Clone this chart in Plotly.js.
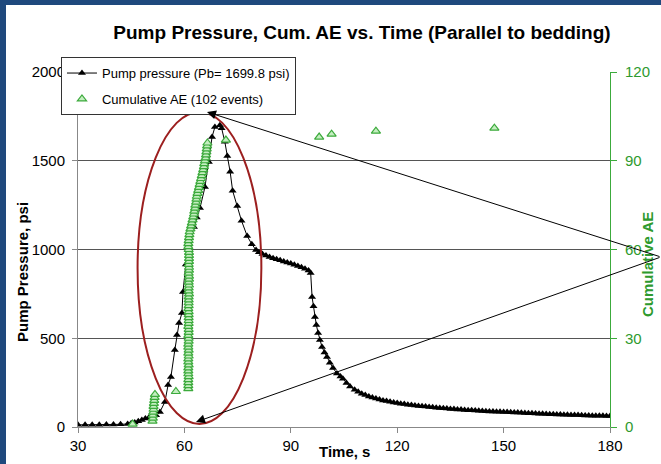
<!DOCTYPE html>
<html><head><meta charset="utf-8">
<script src="https://cdn.plot.ly/plotly-3.0.1.min.js"></script>
<style>
html,body{margin:0;padding:0;background:#1F497D;width:661px;height:464px;overflow:hidden;}
#chart{position:absolute;left:6px;top:5px;width:655px;height:459px;background:#fff;}
</style></head><body><div id="chart"></div>
<script>
// ---- data ----
const timeP = [30,32,34,36,38,40,42,44,45,46,47,48,49,50,51,52,53.1,54.5,55.4,56.2,57.3,57.9,58.5,59.3,59.6,60.4,61.4,62.7,63.5,64.4,65.8,66.9,67.8,68.6,70.0,70.5,71.4,72.1,72.9,73.6,74.9,76.1,77.7,79,80.2,81,82,83,84,85,86,87,88,89,90,91,92,93,94,95,95.6,96.0,96.4,96.8,97.2,97.7,98.2,98.8,99.5,100.2,101,101.9,103,104,104.7,105.7,106.7,108,109,110,111,112,113,114,115,116,117,118,119,120,
121,122,123,124,125,126,127,128,129,130,131,132,133,134,135,136,137,138,139,140,141,142,143,144,145,146,147,148,149,150,151,152,153,154,155,156,157,158,159,160,161,162,163,164,165,166,167,168,169,170,171,172,173,174,175,176,177,178,179,180];
const pumpPressure = [12,12,13,13,14,14,15,17,21,26,32,40,48,54,58,66,85,141,237,282,434,518,586,642,761,915,1030,1127,1180,1234,1352,1493,1634,1690,1699.8,1683,1607,1527,1438,1331,1245,1162,1076,1030,997,984,974,966,958,951,945,939,933,927,921,914,907,900,892,882,868,732,680,620,575,530,490,451,420,394,362,332,302,285,272,248,228,210,198,188,180,172,166,160,155,150,146,142,138,135,
131,129,126,124,121,119,117,115,113,111,109,107,106,104,102,101,99,98,96,95,94,93,91,90,89,88,87,86,86,85,84,83,82,81,80,79,78,77,76,75,74,73,72,72,71,70,69,69,68,67,67,66,65,65,64,64,63,63,62,62];

const timeAE = [45.4,
51.0,51.1,51.1,51.2,51.3,51.3,51.4,51.5,51.6,51.7,
57.6,
61.1,61.1,61.1,61.1,61.2,61.1,61.1,61.1,61.2,61.1,
61.1,61.2,61.1,61.2,61.1,61.1,61.2,61.2,61.1,61.2,
61.2,61.1,61.2,61.2,61.2,61.2,61.2,61.1,61.2,61.2,
61.2,61.2,61.3,61.2,61.2,61.3,61.2,61.3,61.3,61.2,
61.3,61.3,61.2,61.3,61.3,61.3,61.3,61.2,61.1,61.1,
61.2,61.3,61.4,61.5,
61.7,61.9,62.1,62.3,62.5,62.7,62.8,63.0,63.1,63.3,
63.4,63.5,63.7,63.9,64.1,64.3,64.5,64.7,64.9,65.1,
65.3,65.5,65.6,65.8,66.0,66.1,66.2,66.3,66.4,66.5,
71.7,98.0,101.5,114.0,147.4];
const cumAE = [1,2,3,4,5,6,7,8,9,10,11,12,13,14,15,16,17,18,19,20,21,22,23,24,25,26,27,28,29,30,31,32,33,34,35,36,37,38,39,40,41,42,43,44,45,46,47,48,49,50,51,52,53,54,55,56,57,58,59,60,61,62,63,64,65,66,67,68,69,70,71,72,73,74,75,76,77,78,79,80,81,82,83,84,85,86,87,88,89,90,91,92,93,94,95,96,97,98,99,100,101];

const xTicks = [30,60,90,120,150,180];
const yTicks = [0,500,1000,1500,2000];
const y2Ticks = [0,30,60,90,120];
const seriesNames = ['Pump pressure (Pb= 1699.8 psi)','Cumulative AE (102 events)'];

const FONT = 'Arial, "Liberation Sans", sans-serif';
const GREEN = '#2E9A2E';

const traces = [
  {x: timeP, y: pumpPressure, name: seriesNames[0], type:'scatter', mode:'lines+markers',
   line:{color:'#000', width:1}, marker:{symbol:'triangle-up', size:7, color:'#000'},
   legendgroup:'a', xaxis:'x', yaxis:'y'},
  {x: timeAE, y: cumAE, name: seriesNames[1], type:'scatter', mode:'markers',
   marker:{symbol:'triangle-up', size:8, color:'#C4EEC0', line:{color:'#3CAA3C', width:1.2}},
   legendgroup:'b', xaxis:'x', yaxis:'y2'}
];

const layout = {
  width:655, height:459,
  margin:{l:72, r:51, t:67, b:37},
  paper_bgcolor:'#fff', plot_bgcolor:'#fff',
  font:{family:FONT, color:'#000', size:15},
  title:{text:'Pump Pressure, Cum. AE vs. Time (Parallel to bedding)',
         font:{family:FONT, size:19, weight:'bold', color:'#000'},
         x:0.5435, xanchor:'center', y:0.9412, yanchor:'middle'},
  showlegend:true,
  legend:{x:-0.032, y:1.042, xanchor:'left', yanchor:'top', bgcolor:'#fff',
          bordercolor:'#333', borderwidth:1, font:{family:FONT, size:13, color:'#000'},
          tracegroupgap:6},
  xaxis:{range:[30,180], tickvals:xTicks, showgrid:false, zeroline:false,
         showline:true, linecolor:'#888', linewidth:1, ticks:'outside', ticklen:5,
         tickcolor:'#888', tickfont:{size:15}},
  yaxis:{range:[0,2000], tickvals:yTicks, showgrid:true, gridcolor:'#555', gridwidth:1,
         zeroline:false, showline:true, linecolor:'#888', ticks:'outside', ticklen:5,
         tickcolor:'#888', tickfont:{size:15}, ticklabelstandoff:4},
  yaxis2:{range:[0,120], tickvals:y2Ticks, overlaying:'y', side:'right', showgrid:false,
          zeroline:false, showline:true, linecolor:'#3CAA3C', ticks:'outside', ticklen:6,
          tickcolor:'#3CAA3C', tickfont:{size:15, color:GREEN}, ticklabelstandoff:5},
  shapes:[
    {type:'circle', xref:'x', yref:'y', x0:46.8, x1:81.7, y0:17, y1:1775,
     line:{color:'#9C1F1F', width:2}, layer:'above'}
  ],
  annotations:[
    {text:'Time, s', xref:'paper', yref:'paper', x:0.5, y:-0.0704, xanchor:'center', yanchor:'middle',
     showarrow:false, font:{size:15, weight:'bold', color:'#000'}},
    {text:'Pump Pressure, psi', xref:'paper', yref:'paper', x:-0.1053, y:0.4366, xanchor:'center', yanchor:'middle',
     textangle:-90, showarrow:false, font:{size:15, weight:'bold', color:'#000'}},
    {text:'Cumulative AE', xref:'paper', yref:'paper', x:1.0695, y:0.459, xanchor:'center', yanchor:'middle',
     textangle:-90, showarrow:false, font:{size:15, weight:'bold', color:GREEN}},
    {text:'', xref:'paper', yref:'paper', x:0.2425, y:0.8873, showarrow:true, ax:457, ay:145,
     arrowhead:2, arrowsize:1.8, arrowwidth:1, arrowcolor:'#000'},
    {text:'', xref:'paper', yref:'paper', x:0.2218, y:0.0141, showarrow:true, ax:468, ay:-165,
     arrowhead:2, arrowsize:1.8, arrowwidth:1, arrowcolor:'#000'}
  ]
};

Plotly.newPlot('chart', traces, layout, {displayModeBar:false, staticPlot:true});
</script></body></html>
